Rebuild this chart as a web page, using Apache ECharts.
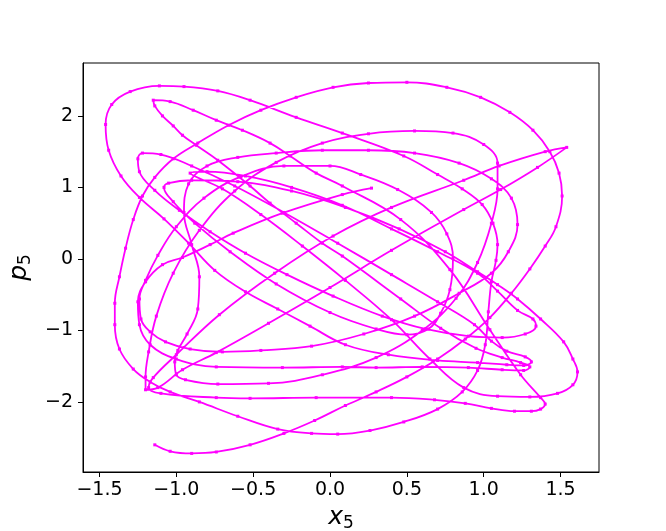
<!DOCTYPE html>
<html><head><meta charset="utf-8">
<script src="https://cdn.jsdelivr.net/npm/echarts@6/dist/echarts.min.js"></script>
<style>html,body{margin:0;padding:0;background:#fff}#c{width:666px;height:531px}</style>
</head><body><div id="c"></div>
<script>
// Trajectory, revolution by revolution: [x5, p5]
var rev1 = [[-1.14,-2.60],[-1.04,-2.69],[-0.90,-2.72],[-0.74,-2.70],[-0.52,-2.60],[-0.30,-2.44],[-0.10,-2.26],[0.10,-2.05],[0.30,-1.86],[0.50,-1.65],[0.70,-1.40],[0.88,-1.12],[1.04,-0.82],[1.18,-0.48],[1.30,-0.14],[1.40,0.18],[1.47,0.45],[1.51,0.88],[1.49,1.20],[1.43,1.50],[1.32,1.80],[1.17,2.05],[0.98,2.26],[0.76,2.40],[0.50,2.47],[0.25,2.46],[0.02,2.40],[-0.22,2.26],[-0.45,2.08],[-0.66,1.87],[-0.86,1.62],[-1.02,1.40],[-1.14,1.14],[-1.22,0.88],[-1.28,0.55],[-1.33,0.15],[-1.37,-0.25],[-1.40,-0.62],[-1.40,-0.92]];
var rev2 = [[-1.37,-1.26],[-1.28,-1.54],[-1.17,-1.72],[-1.04,-1.86],[-0.85,-2.00],[-0.60,-2.20],[-0.34,-2.38],[-0.12,-2.44],[0.05,-2.45],[0.26,-2.40],[0.48,-2.28],[0.70,-2.10],[0.86,-1.86],[0.96,-1.56],[1.01,-1.20],[1.03,-0.74],[1.05,-0.32],[1.08,-0.02],[1.09,0.20],[1.06,0.50],[0.99,0.76],[0.86,0.98],[0.70,1.18],[0.48,1.44],[0.08,1.76],[-0.22,1.98],[-0.52,2.22],[-0.73,2.35],[-0.95,2.41],[-1.11,2.42],[-1.30,2.34],[-1.42,2.16],[-1.46,1.88]];
var rev3 = [[-1.44,1.52],[-1.36,1.16],[-1.24,0.86],[-1.08,0.56],[-0.92,0.22],[-0.75,-0.16],[-0.55,-0.46],[-0.34,-0.70],[-0.13,-0.94],[0.10,-1.20],[0.38,-1.34],[0.70,-1.42],[0.96,-1.45],[1.15,-1.48],[1.26,-1.49],[1.31,-1.44],[1.27,-1.37],[1.15,-1.29],[1.05,-1.15],[0.94,-0.92],[0.70,-0.60],[0.40,-0.22],[0.05,0.22],[-0.30,0.65],[-0.62,1.02],[-0.90,1.30],[-1.10,1.46],[-1.22,1.48],[-1.25,1.40]];
var rev4 = [[-1.24,1.22],[-1.14,0.96],[-0.98,0.68],[-0.78,0.38],[-0.55,0.08],[-0.28,-0.22],[0.02,-0.52],[0.34,-0.80],[0.62,-0.98],[0.90,-1.08],[1.12,-1.10],[1.27,-1.05],[1.34,-0.94],[1.32,-0.84],[1.22,-0.72],[1.09,-0.45],[0.96,-0.20],[0.70,0.10],[0.40,0.42],[0.08,0.75],[-0.25,1.00],[-0.55,1.16],[-0.80,1.22],[-0.91,1.20]];
var rev5 = [[-0.70,0.98],[-0.45,0.62],[-0.18,0.18],[0.10,-0.30],[0.40,-0.85],[0.65,-1.40],[0.87,-1.80],[1.09,-1.92],[1.30,-1.93],[1.48,-1.88],[1.58,-1.76],[1.61,-1.58],[1.58,-1.40],[1.52,-1.16],[1.37,-0.84],[1.22,-0.56],[1.09,-0.36],[0.96,-0.18],[0.75,0.10],[0.45,0.42],[0.10,0.72],[-0.25,0.95],[-0.60,1.08],[-0.90,1.10],[-1.05,1.06],[-1.08,1.00]];
var rev6 = [[-1.02,0.80],[-0.88,0.50],[-0.65,0.10],[-0.35,-0.35],[0.00,-0.75],[0.30,-0.98],[0.50,-1.06],[0.64,-0.98],[0.72,-0.76],[0.78,-0.43],[0.80,0.01],[0.76,0.35],[0.66,0.65],[0.44,0.97],[0.20,1.18],[0.00,1.30],[-0.30,1.30],[-0.58,1.15],[-0.82,0.85],[-1.00,0.45],[-1.12,0.05],[-1.20,-0.30],[-1.24,-0.56]];
var rev7 = [[-1.23,-0.84],[-1.17,-1.02],[-1.07,-1.16],[-0.91,-1.26],[-0.70,-1.30],[-0.45,-1.28],[-0.12,-1.22],[0.22,-1.05],[0.55,-0.80],[0.84,-0.48],[1.05,-0.20],[1.16,0.10],[1.22,0.48],[1.18,0.85],[1.05,1.12],[0.84,1.34],[0.55,1.48],[0.25,1.52],[-0.05,1.52],[-0.35,1.48],[-0.60,1.42],[-0.80,1.30],[-0.92,1.05],[-0.95,0.65],[-0.90,0.20],[-0.85,-0.25],[-0.86,-0.70],[-0.93,-1.05],[-0.99,-1.28],[-1.01,-1.44]];
var rev8 = [[-1.00,-1.62],[-0.94,-1.69],[-0.73,-1.75],[-0.40,-1.74],[-0.05,-1.62],[0.30,-1.38],[0.60,-1.00],[0.82,-0.55],[0.96,-0.05],[1.05,0.50],[1.09,0.98],[1.09,1.34],[1.00,1.60],[0.80,1.76],[0.55,1.79],[0.25,1.75],[-0.05,1.62],[-0.35,1.35],[-0.62,0.95],[-0.85,0.40],[-1.02,-0.20],[-1.13,-0.80],[-1.18,-1.30],[-1.20,-1.65],[-1.20,-1.83]];
var rev9 = [[-1.12,-1.80],[-0.96,-1.55],[-0.74,-1.31],[-0.40,-0.90],[0.00,-0.40],[0.40,0.12],[0.87,0.69],[1.11,0.97],[1.35,1.28],[1.54,1.56],[1.40,1.50],[1.10,1.30],[0.87,1.10],[0.40,0.72],[0.02,0.32],[-0.36,-0.20],[-0.72,-0.78],[-1.00,-1.34],[-1.15,-1.66],[-1.18,-1.80]];
var rev10 = [[-1.10,-1.88],[-0.74,-1.94],[-0.52,-1.95],[-0.09,-1.94],[0.40,-1.94],[0.68,-1.97],[0.88,-2.02],[1.05,-2.09],[1.20,-2.13],[1.31,-2.13],[1.37,-2.10],[1.40,-2.03],[1.37,-1.94],[1.24,-1.62],[1.04,-0.99],[0.78,-0.15],[0.46,0.55],[0.08,1.02],[-0.09,1.20],[-0.26,1.44],[-0.39,1.62],[-0.57,1.80],[-0.74,1.94],[-0.89,2.08],[-1.04,2.20],[-1.15,2.22]];
var rev11 = [[-1.14,2.14],[-1.09,2.00],[-1.02,1.86],[-0.96,1.73],[-0.87,1.59],[-0.73,1.38],[-0.52,1.02],[-0.39,0.78],[-0.22,0.50],[-0.05,0.22],[0.08,0.04],[0.46,-0.56],[0.72,-0.97],[0.95,-1.25],[1.12,-1.38],[1.24,-1.45],[1.30,-1.51],[1.26,-1.56],[1.12,-1.55],[0.90,-1.52],[0.60,-1.51],[0.30,-1.52],[0.08,-1.51],[-0.31,-1.52],[-0.74,-1.51],[-1.00,-1.40],[-1.17,-1.20],[-1.24,-0.92],[-1.25,-0.60],[-1.20,-0.32],[-1.09,-0.08],[-0.96,0.02],[-0.78,0.20],[-0.63,0.36],[-0.31,0.64],[0.08,0.90],[0.27,0.99]];

var xTicks = [-1.5, -1.0, -0.5, 0.0, 0.5, 1.0, 1.5];
var yTicks = [-2, -1, 0, 1, 2];

var traj = [].concat(rev1, rev2, rev3, rev4, rev5, rev6, rev7, rev8, rev9, rev10, rev11);

function fmt(v, dec) {
  var s = dec ? v.toFixed(1) : String(Math.round(v));
  return s.replace('-', '\u2212');
}
function pick(list, dec) {
  return function (v) {
    for (var i = 0; i < list.length; i++) if (Math.abs(v - list[i]) < 1e-6) return fmt(list[i], dec);
    return '';
  };
}
var nameRich = {
  i: {fontFamily: 'DejaVu Sans', fontStyle: 'italic', fontSize: 25, color: '#000'},
  s: {fontFamily: 'DejaVu Sans', fontSize: 17, color: '#000', verticalAlign: 'bottom', padding: [12, 0, 0, 0]}
};

var chart = echarts.init(document.getElementById('c'), null, {renderer: 'canvas'});
chart.setOption({
  animation: false,
  backgroundColor: '#ffffff',
  grid: {left: 83, top: 63, width: 516, height: 409, show: true, borderColor: '#000', borderWidth: 1, backgroundColor: '#fff', containLabel: false, outerBoundsMode: 'none'},
  xAxis: {
    type: 'value', min: -1.607, max: 1.75,
    name: '{i|x}{s|5}', nameLocation: 'middle', nameGap: 26,
    nameTextStyle: {rich: nameRich},
    axisLine: {onZero: false, lineStyle: {color: '#000', width: 1}},
    axisTick: {length: 5, lineStyle: {color: '#000'}},
    splitLine: {show: false},
    axisLabel: {showMinLabel: false, showMaxLabel: false, fontFamily: 'DejaVu Sans', fontSize: 19, color: '#000', margin: 9,
      formatter: pick(xTicks, true)}
  },
  yAxis: {
    type: 'value', min: -2.98, max: 2.74,
    name: '{i|p}{s|5}', nameLocation: 'middle', nameGap: 38, nameRotate: 90,
    nameTextStyle: {rich: nameRich},
    axisLine: {onZero: false, lineStyle: {color: '#000', width: 1}},
    axisTick: {length: 5, lineStyle: {color: '#000'}},
    splitLine: {show: false},
    axisLabel: {showMinLabel: false, showMaxLabel: false, fontFamily: 'DejaVu Sans', fontSize: 19, color: '#000', margin: 10,
      formatter: pick(yTicks, false)}
  },
  series: [{
    type: 'line', data: traj, smooth: 0.4,
    lineStyle: {color: '#ff00ff', width: 1.8},
    itemStyle: {color: '#ff00ff'},
    symbol: 'rect', symbolSize: 3, showSymbol: true
  }]
});
</script></body></html>
